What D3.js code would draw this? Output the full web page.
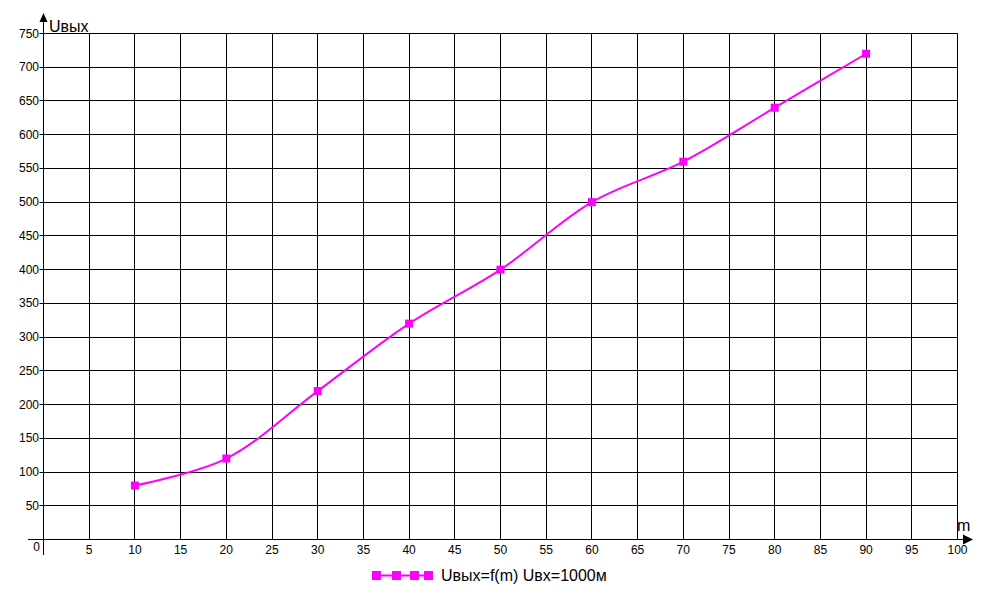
<!DOCTYPE html>
<html><head><meta charset="utf-8">
<script src="https://cdn.jsdelivr.net/npm/d3@7"></script>
<style>body{margin:0;background:#fff}svg{display:block}text{font-family:Arial,"Liberation Sans",sans-serif}</style>
</head><body>
<svg id="c" width="1000" height="600"></svg>
<script>
const xValues = [10, 20, 30, 40, 50, 60, 70, 80, 90];
const yValues = [80, 120, 220, 320, 400, 500, 560, 640, 720];
const xTicks = [0,5,10,15,20,25,30,35,40,45,50,55,60,65,70,75,80,85,90,95,100];
const yTicks = [50,100,150,200,250,300,350,400,450,500,550,600,650,700,750];
const seriesName = "Uвых=f(m) Uвх=1000м";
const yTitle = "Uвых";
const xTitle = "m";
const color = "#ff00ff";

const svg = d3.select("#c");
const x = d3.scaleLinear().domain([0,100]).range([43.5, 957.5]);
const y = d3.scaleLinear().domain([0,750]).range([539.5, 33.5]);

const g = svg.append("g");
// vertical grid
g.selectAll(".vg").data(xTicks.slice(1)).enter().append("line")
  .attr("x1", d=>Math.round(x(d)-0.5)+0.5).attr("x2", d=>Math.round(x(d)-0.5)+0.5)
  .attr("y1", y(750)).attr("y2", y(0)).attr("stroke","#000").attr("stroke-width",1);
// horizontal grid
g.selectAll(".hg").data(yTicks).enter().append("line")
  .attr("x1", x(0)-4).attr("x2", x(100))
  .attr("y1", d=>Math.round(y(d)-0.5)+0.5).attr("y2", d=>Math.round(y(d)-0.5)+0.5)
  .attr("stroke","#000").attr("stroke-width",1);
// axes
g.append("line").attr("x1", x(0)).attr("x2", x(0)).attr("y1", 18).attr("y2", 555).attr("stroke","#000");
g.append("line").attr("x1", 28).attr("x2", 968).attr("y1", y(0)).attr("y2", y(0)).attr("stroke","#000");
// arrows
g.append("path").attr("d", `M${x(0)-4},22 L${x(0)},13 L${x(0)+4},22 Z`).attr("fill","#000");
g.append("path").attr("d", `M963,${y(0)-5} L973,${y(0)} L963,${y(0)+5} Z`).attr("fill","#000");

// tick labels
g.selectAll(".yl").data(yTicks).enter().append("text")
  .attr("x", 39).attr("y", d=>y(d)+4).attr("text-anchor","end")
  .attr("font-size",12).text(d=>d);
g.selectAll(".xl").data(xTicks.slice(1)).enter().append("text")
  .attr("x", d=>x(d)).attr("y", 554).attr("text-anchor","middle")
  .attr("font-size",12).text(d=>d);
g.append("text").attr("x", 40).attr("y", 551).attr("text-anchor","end").attr("font-size",12).text("0");
g.append("text").attr("x", 49).attr("y", 32).attr("font-size",16).text(yTitle);
g.append("text").attr("x", 957).attr("y", 531).attr("font-size",16).text(xTitle);

// series
const pts = xValues.map((v,i)=>[v, yValues[i]]);
const line = d3.line().x(d=>x(d[0])).y(d=>y(d[1])).curve(d3.curveCatmullRom.alpha(0.5));
g.append("path").attr("d", line(pts)).attr("fill","none").attr("stroke",color).attr("stroke-width",2);
g.selectAll(".m").data(pts).enter().append("rect")
  .attr("x", d=>x(d[0])-4).attr("y", d=>y(d[1])-4).attr("width",8).attr("height",8).attr("fill",color);

// legend
const lg = svg.append("g");
lg.append("line").attr("x1",372).attr("x2",432).attr("y1",575.5).attr("y2",575.5).attr("stroke",color).attr("stroke-width",2);
lg.selectAll("rect").data([376,396,414,428]).enter().append("rect")
  .attr("x",d=>d-4).attr("y",571).attr("width",9).attr("height",9).attr("fill",color);
lg.append("text").attr("x",441).attr("y",581).attr("font-size",16).text(seriesName);
</script>
</body></html>
